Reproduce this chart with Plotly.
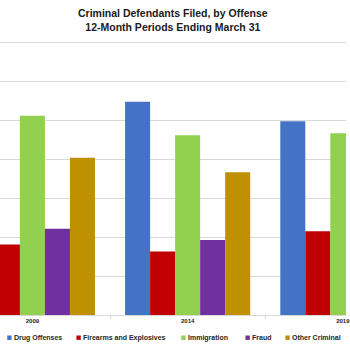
import plotly.graph_objects as go

# ---- data ----
years = ["2009", "2014", "2019"]
series_names = ["Drug Offenses", "Firearms and Explosives", "Immigration", "Fraud", "Other Criminal"]
drug_offenses = [29000, 27350, 24850]
firearms_explosives = [9050, 8150, 10750]
immigration = [25550, 23050, 23300]
fraud = [11050, 9600, 8000]
other_criminal = [20150, 18300, 17000]
colors = ["#4472C4", "#C00000", "#92D050", "#7030A0", "#BF9000"]

values = [drug_offenses, firearms_explosives, immigration, fraud, other_criminal]

W, H = 350, 350
TOP, BOTTOM = 3, 315
PLOT_H = BOTTOM - TOP
CAT_PX = 157.0
FIRST_CAT_PX = 32.8

fig = go.Figure()
for name, vals, c in zip(series_names, values, colors):
    fig.add_trace(go.Bar(x=years, y=vals, name=name,
                         marker=dict(color=c, line=dict(width=0)),
                         showlegend=False))

x0 = -FIRST_CAT_PX / CAT_PX
fig.update_layout(
    width=W, height=H,
    margin=dict(l=0, r=0, t=TOP, b=H - BOTTOM),
    barmode="group", bargap=0.194, bargroupgap=0,
    plot_bgcolor="white", paper_bgcolor="white",
)
fig.update_xaxes(type="category", range=[x0, x0 + W / CAT_PX],
                 showgrid=False, showline=True, linecolor="#d9d9d9", linewidth=1,
                 ticks="outside", tickson="boundaries", ticklen=3, tickcolor="#d9d9d9",
                 ticklabeloverflow="allow",
                 tickfont=dict(family="Liberation Sans", size=6, color="#262626", weight="bold"),
                 zeroline=False)
fig.update_yaxes(range=[0, 40000], dtick=5000, showgrid=True, gridcolor="#d9d9d9",
                 gridwidth=1, showticklabels=False, zeroline=False, showline=False)

def py(p):
    return (BOTTOM - p) / PLOT_H

fig.add_annotation(
    text="Criminal Defendants Filed, by Offense<br>12-Month Periods Ending March 31",
    xref="paper", yref="paper", x=0.5, y=py(20), xanchor="center", yanchor="middle",
    showarrow=False, borderpad=0, borderwidth=0,
    font=dict(family="Liberation Sans", size=10.5, color="#1a1a1a", weight="bold"),
)

# manual legend (marker left px, text left px)
legend_pos = [(7.3, 14), (77.3, 83.5), (183.3, 190), (248.3, 255), (288.7, 295.7)]
ly = 337.7
for (mx, tx), name, c in zip(legend_pos, series_names, colors):
    fig.add_shape(type="rect", xref="paper", yref="paper",
                  x0=mx / W, x1=(mx + 4.4) / W, y0=py(ly + 2.2), y1=py(ly - 2.2),
                  fillcolor=c, line=dict(width=0))
    fig.add_annotation(text=name, xref="paper", yref="paper", x=tx / W, y=py(ly),
                       xanchor="left", yanchor="middle", showarrow=False,
                       borderpad=0, borderwidth=0,
                       font=dict(family="Liberation Sans", size=7, color="#262626", weight="bold"))

fig.write_html("out.html")
